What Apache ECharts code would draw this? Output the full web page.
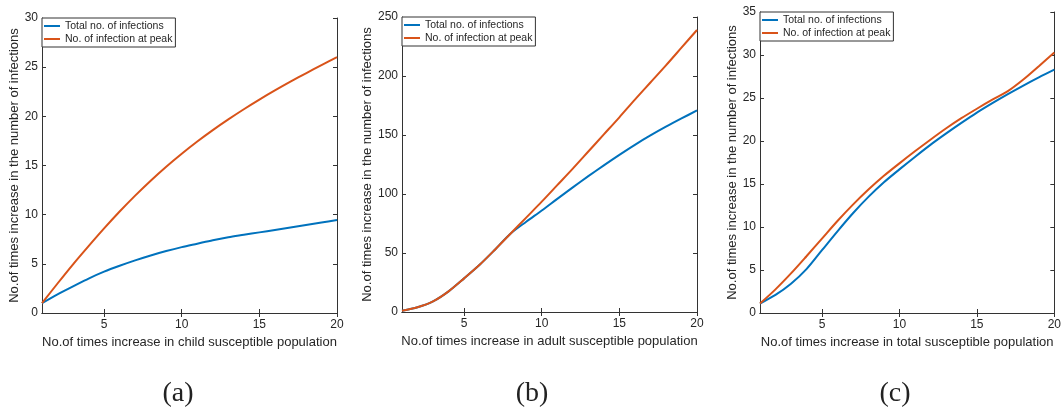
<!DOCTYPE html>
<html><head><meta charset="utf-8">
<script src="https://cdn.jsdelivr.net/npm/echarts@6/dist/echarts.min.js"></script>
<style>html,body{margin:0;padding:0;background:#fff}#c{width:1064px;height:409px}</style>
</head><body><div id="c"></div>
<script>
// ---------- data ----------
const xValues = [1,2,3,4,5,6,7,8,9,10,11,12,13,14,15,16,17,18,19,20];
const xTickValues = [5,10,15,20];
const seriesNames = ['Total no. of infections','No. of infection at peak'];
const panelCaptions = ['(a)','(b)','(c)'];
const xAxisTitles = [
  'No.of times increase in child susceptible population',
  'No.of times increase in adult susceptible population',
  'No.of times increase in total susceptible population'
];
const yAxisTitle = 'No.of times increase in the number of infections';

const yTicksA = [0,5,10,15,20,25,30];
const totalA = [1.0,1.9,2.7,3.5,4.2,4.8,5.35,5.85,6.3,6.7,7.05,7.4,7.7,7.95,8.2,8.45,8.7,8.95,9.2,9.45];
const peakA  = [1.0,3.0,4.95,6.8,8.6,10.32,11.94,13.46,14.88,16.2,17.44,18.6,19.69,20.72,21.7,22.63,23.52,24.38,25.21,26.02];

const yTicksB = [0,50,100,150,200,250];
const totalB = [1,4,9,17.5,28.5,40,53,66.5,76.5,86,95.9,105.6,115.1,124.3,133.2,141.7,149.6,157,164,170.8];
const peakB  = [1,4,9,17.5,28.5,40,53,66.5,80,93.5,107.5,121.5,136,150.5,165,180,194.5,209,224,239];

const yTicksC = [0,5,10,15,20,25,30,35];
const totalC = [1.1,2.1,3.4,5.1,7.3,9.5,11.6,13.5,15.2,16.7,18.15,19.55,20.85,22.1,23.3,24.4,25.45,26.45,27.4,28.3];
const peakC  = [1.1,2.75,4.6,6.6,8.65,10.7,12.6,14.35,15.95,17.4,18.8,20.15,21.45,22.65,23.75,24.8,25.8,27.15,28.7,30.3];

// ---------- layout / style ----------
const panels = [
  {total: totalA, peak: peakA, yTicks: yTicksA, grid:{left:42, top:18, width:295, height:295}, yNameGap:18, caption:[178,394]},
  {total: totalB, peak: peakB, yTicks: yTicksB, grid:{left:402, top:17, width:295, height:295}, yNameGap:27, caption:[532,394]},
  {total: totalC, peak: peakC, yTicks: yTicksC, grid:{left:760, top:12, width:301, height:301}, yNameGap:20, caption:[895,394]}
];
const AX = '#333333', TXT = '#262626', FONT = '"Liberation Sans", Arial, sans-serif';
const COLORS = ['#0072BD', '#D95319'];

const option = {animation:false, backgroundColor:'#fff', grid:[], xAxis:[], yAxis:[], series:[], legend:[], graphic:[]};
panels.forEach((p, i) => {
  option.grid.push(Object.assign({containLabel:false}, p.grid));
  const yMin = p.yTicks[0], yMax = p.yTicks[p.yTicks.length-1];
  const line = {show:true, lineStyle:{color:AX, width:1}};
  option.xAxis.push({type:'value', gridIndex:i, min:xValues[0], max:xValues[xValues.length-1], position:'bottom',
    axisLine:line, splitLine:{show:false},
    axisTick:{show:true, inside:true, length:4, customValues:xTickValues, lineStyle:{color:AX}},
    axisLabel:{show:true, customValues:xTickValues, margin:6, color:TXT, fontSize:12, fontFamily:FONT},
    name:xAxisTitles[i], nameLocation:'middle', nameGap:22, nameTextStyle:{color:TXT, fontSize:13, fontFamily:FONT}});
  option.xAxis.push({type:'value', gridIndex:i, min:xValues[0], max:xValues[xValues.length-1], position:'top',
    axisLine:line, splitLine:{show:false},
    axisTick:{show:true, inside:true, length:4, customValues:xTickValues, lineStyle:{color:AX}},
    axisLabel:{show:false}});
  option.yAxis.push({type:'value', gridIndex:i, min:yMin, max:yMax, position:'left',
    axisLine:line, splitLine:{show:false},
    axisTick:{show:true, inside:true, length:4, customValues:p.yTicks, lineStyle:{color:AX}},
    axisLabel:{show:true, customValues:p.yTicks, margin:4, color:TXT, fontSize:12, fontFamily:FONT},
    name:yAxisTitle, nameLocation:'middle', nameGap:p.yNameGap, nameTextStyle:{color:TXT, fontSize:13, fontFamily:FONT}});
  option.yAxis.push({type:'value', gridIndex:i, min:yMin, max:yMax, position:'right',
    axisLine:line, splitLine:{show:false},
    axisTick:{show:true, inside:true, length:4, customValues:p.yTicks, lineStyle:{color:AX}},
    axisLabel:{show:false}});
  [p.total, p.peak].forEach((arr, k) => {
    option.series.push({type:'line', name:seriesNames[k], xAxisIndex:2*i, yAxisIndex:2*i,
      data:xValues.map((x, j) => [x, arr[j]]), showSymbol:false, smooth:0.3,
      color:COLORS[k], lineStyle:{color:COLORS[k], width:2}, z:3+k});
  });
  option.legend.push({orient:'vertical', left:p.grid.left, top:p.grid.top, data:seriesNames,
    icon:'rect', itemWidth:16, itemHeight:2, itemGap:1,
    padding:[2,3,2,2], backgroundColor:'#fff', borderColor:AX, borderWidth:1, borderRadius:0,
    textStyle:{fontSize:10.5, color:TXT, fontFamily:FONT, lineHeight:12}, z:10});
  option.graphic.push({type:'text', x:p.caption[0], y:p.caption[1],
    style:{text:panelCaptions[i], align:'center', verticalAlign:'middle', fill:'#222',
      font:'28px "Liberation Serif", "Times New Roman", serif'}});
});

const chart = echarts.init(document.getElementById('c'), null, {renderer:'canvas'});
chart.setOption(option);
</script>
</body></html>
